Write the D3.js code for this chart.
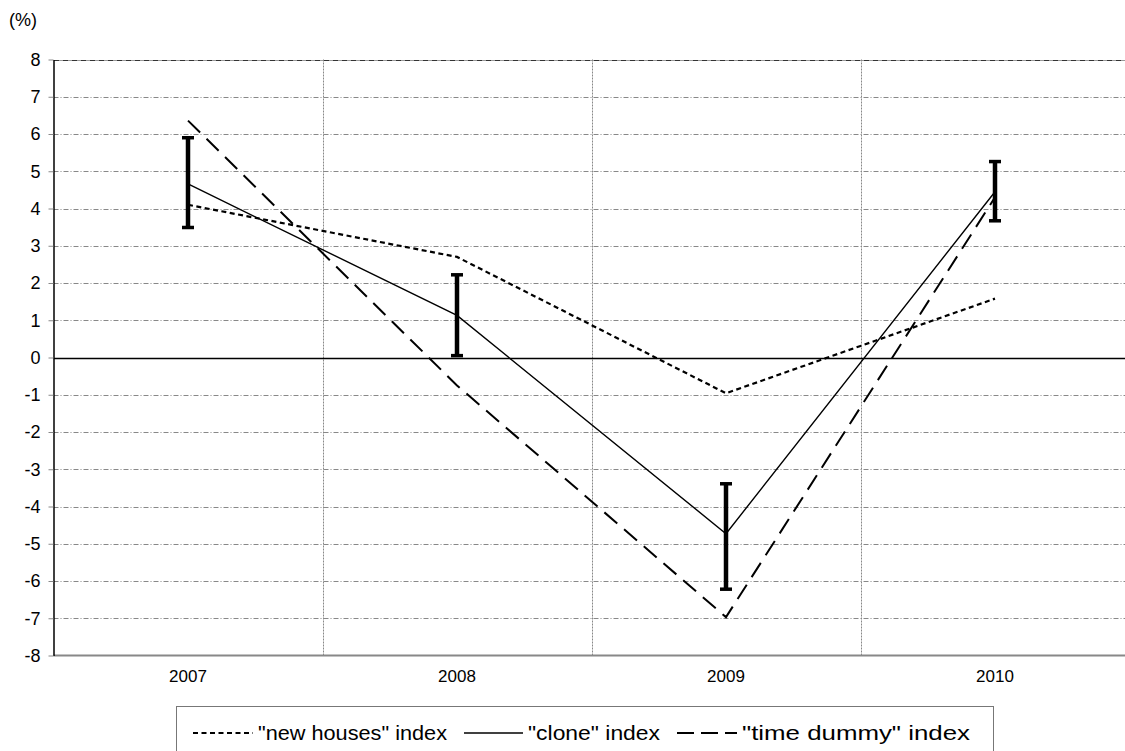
<!DOCTYPE html>
<html>
<head>
<meta charset="utf-8">
<script src="https://cdn.jsdelivr.net/npm/d3@7"></script>
<style>
html,body{margin:0;padding:0;background:#fff;}
svg{display:block;font-family:"Liberation Sans",Arial,sans-serif;}
</style>
</head>
<body>
<svg id="chart" width="1125" height="751"></svg>
<script>
const years = ["2007","2008","2009","2010"];
const newHouses = [4.1, 2.7, -0.96, 1.58];
const cloneIdx = [4.66, 1.13, -4.73, 4.45];
const timeDummy = [6.36, -0.75, -6.97, 4.3];
const errLow = [3.49, 0.05, -6.22, 3.67];
const errHigh = [5.9, 2.22, -3.39, 5.26];
const yTicks = [8,7,6,5,4,3,2,1,0,-1,-2,-3,-4,-5,-6,-7,-8];
const legendLabels = ['"new houses" index','"clone" index','"time dummy" index'];

const svg = d3.select("#chart");
const x = d3.scaleBand().domain(years).range([53.5, 1129.5]).padding(0);
const y = d3.scaleLinear().domain([-8, 8]).range([655.5, 59.5]);
const cx = d => x(d) + x.bandwidth()/2;

// horizontal gridlines
svg.append("g").selectAll("line").data(yTicks.filter(t => t !== 0 && t !== -8))
  .join("line")
  .attr("x1", 53.5).attr("x2", 1125)
  .attr("y1", d => Math.round(y(d)) + 0.5).attr("y2", d => Math.round(y(d)) + 0.5)
  .attr("stroke", d => d === 8 ? "#333" : "#888").attr("stroke-width", 1)
  .attr("stroke-dasharray", d => d === 8 ? "6,1,1,1" : "5,2,1,2");

// vertical gridlines at band boundaries
svg.append("g").selectAll("line").data(years.slice(1))
  .join("line")
  .attr("x1", d => Math.round(x(d)) + 0.5).attr("x2", d => Math.round(x(d)) + 0.5)
  .attr("y1", y(8)).attr("y2", y(-8))
  .attr("stroke", "#888").attr("stroke-width", 1).attr("stroke-dasharray", "2,1");

// bottom axis line (at -8)
svg.append("line").attr("x1", 53.5).attr("x2", 1125)
  .attr("y1", y(-8)).attr("y2", y(-8))
  .attr("stroke", "#888").attr("stroke-width", 2);

// zero line
svg.append("line").attr("x1", 53.5).attr("x2", 1125)
  .attr("y1", Math.round(y(0)) + 0.5).attr("y2", Math.round(y(0)) + 0.5)
  .attr("stroke", "#000").attr("stroke-width", 1.3);

// y axis
const yAxis = d3.axisLeft(y).tickValues(yTicks).tickSize(5).tickSizeOuter(0).tickPadding(8)
  .tickFormat(d => String(d));
const gy = svg.append("g").attr("transform", "translate(53.5,0)").call(yAxis);
gy.select(".domain").attr("stroke", "#000").attr("stroke-width", 1.5);
gy.selectAll(".tick line").attr("stroke", "#888");
gy.selectAll("text").attr("font-size", 18).attr("fill", "#000")
  .attr("font-family", '"Liberation Sans",Arial,sans-serif');

// x axis labels
const xAxis = d3.axisBottom(x).tickSize(0).tickPadding(14);
const gx = svg.append("g").attr("transform", `translate(0,${y(-8)})`).call(xAxis);
gx.select(".domain").remove();
gx.selectAll("text").attr("font-size", 17).attr("fill", "#000")
  .attr("font-family", '"Liberation Sans",Arial,sans-serif');

// (%) label
svg.append("text").attr("x", 9).attr("y", 26).attr("font-size", 18).text("(%)");

const line = d3.line().x((d, i) => cx(years[i])).y(d => y(d));

svg.append("path").datum(newHouses).attr("d", line)
  .attr("fill", "none").attr("stroke", "#000").attr("stroke-width", 2.2)
  .attr("stroke-dasharray", "5,3.5");
svg.append("path").datum(cloneIdx).attr("d", line)
  .attr("fill", "none").attr("stroke", "#000").attr("stroke-width", 1.4);
svg.append("path").datum(timeDummy).attr("d", line)
  .attr("fill", "none").attr("stroke", "#000").attr("stroke-width", 2)
  .attr("stroke-dasharray", "17,9");

// error bars
const eb = svg.append("g").selectAll("g").data(years).join("g");
eb.append("line")
  .attr("x1", d => cx(d)).attr("x2", d => cx(d))
  .attr("y1", (d, i) => y(errHigh[i])).attr("y2", (d, i) => y(errLow[i]))
  .attr("stroke", "#000").attr("stroke-width", 4.5);
eb.append("line")
  .attr("x1", d => cx(d) - 6).attr("x2", d => cx(d) + 6)
  .attr("y1", (d, i) => y(errHigh[i])).attr("y2", (d, i) => y(errHigh[i]))
  .attr("stroke", "#000").attr("stroke-width", 3.5);
eb.append("line")
  .attr("x1", d => cx(d) - 6).attr("x2", d => cx(d) + 6)
  .attr("y1", (d, i) => y(errLow[i])).attr("y2", (d, i) => y(errLow[i]))
  .attr("stroke", "#000").attr("stroke-width", 3.5);

// legend
const lg = svg.append("g");
lg.append("rect").attr("x", 176.5).attr("y", 706.5).attr("width", 817).attr("height", 60)
  .attr("fill", "#fff").attr("stroke", "#777").attr("stroke-width", 1);
const legendItems = [
  {x0: 193, x1: 253, tx: 258, len: 189, dash: "5,3.5", w: 2},
  {x0: 464, x1: 523, tx: 528, len: 132, dash: null, w: 1.4},
  {x0: 677, x1: 737, tx: 742, len: 228, dash: "17,7", w: 2}
];
legendItems.forEach((it, i) => {
  lg.append("line").attr("x1", it.x0).attr("x2", it.x1).attr("y1", 733).attr("y2", 733)
    .attr("stroke", "#000").attr("stroke-width", it.w)
    .attr("stroke-dasharray", it.dash);
  lg.append("text").attr("x", it.tx).attr("y", 740).attr("font-size", 20)
    .attr("textLength", it.len).attr("lengthAdjust", "spacingAndGlyphs")
    .text(legendLabels[i]);
});
</script>
</body>
</html>
